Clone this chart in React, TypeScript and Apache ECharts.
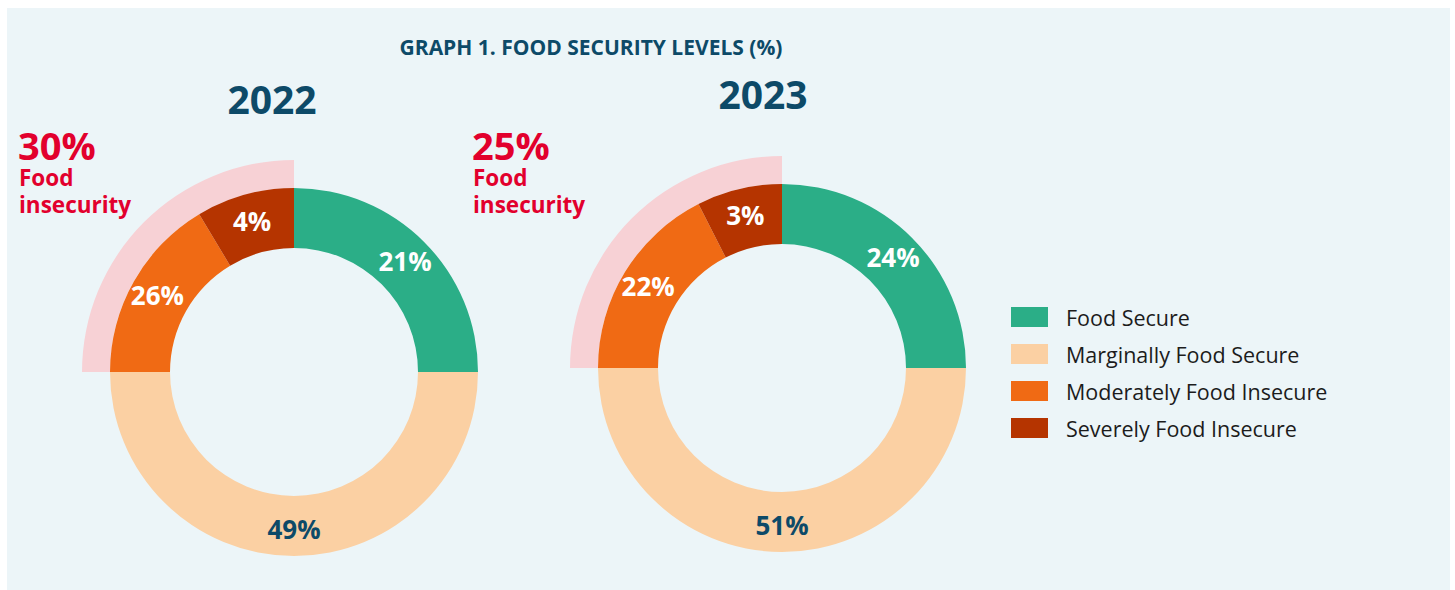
import React, { useEffect, useRef } from "react";
import * as echarts from "echarts";

const categories = ["Food Secure", "Marginally Food Secure", "Moderately Food Insecure", "Severely Food Insecure"];
const years = ["2022", "2023"];
const values2022 = [21, 49, 26, 4];
const values2023 = [24, 51, 22, 3];
// angular span (degrees) of each ring segment as drawn in the stylised source graphic
const arcSpan2022 = [90, 180, 59, 31];
const arcSpan2023 = [90, 180, 63, 27];
const insecurity = [30, 25];

const colors = ["#2BAE87", "#FBD0A3", "#F06A14", "#B53400"];
const labelColors = ["#FFFFFF", "#0D4A68", "#FFFFFF", "#FFFFFF"];
const NAVY = "#0D4A68";
const RED = "#E2002D";
const FONT = "'Open Sans', 'Noto Sans', sans-serif";

function donut(center: number[], values: number[], spans: number[]) {
  return {
    type: "pie",
    center,
    radius: [124, 184],
    startAngle: 90,
    clockwise: true,
    silent: true,
    avoidLabelOverlap: false,
    label: {
      show: true,
      position: "inside",
      fontFamily: FONT,
      fontSize: 26,
      fontWeight: "bold",
      formatter: (p: any) => p.data.pct + "%",
    },
    labelLine: { show: false },
    itemStyle: { borderWidth: 0 },
    data: categories.map((name, i) => ({
      name,
      value: spans[i],
      pct: values[i],
      itemStyle: { color: colors[i] },
      label: { color: labelColors[i] },
    })),
  };
}

function halo(center: number[], spans: number[]) {
  const insecureSpan = spans[2] + spans[3];
  return {
    type: "pie",
    center,
    radius: [184, 212],
    startAngle: 180,
    clockwise: true,
    silent: true,
    label: { show: false },
    labelLine: { show: false },
    data: [
      { name: "insecure-band", value: insecureSpan, itemStyle: { color: "#F7D1D5" } },
      { name: "rest", value: 360 - insecureSpan, itemStyle: { color: "rgba(0,0,0,0)" } },
    ],
  };
}

function redText(x: number, y: number, text: string, size: number) {
  return {
    type: "text", x, y,
    style: { text, fill: RED, font: `bold ${size}px ${FONT}`, textAlign: "left", textVerticalAlign: "middle" },
  };
}

export default function App() {
  const ref = useRef<HTMLDivElement>(null);
  useEffect(() => {
    if (!ref.current) return;
    const chart = echarts.init(ref.current, undefined, { renderer: "svg" });
    const c1 = [294, 372];
    const c2 = [782, 368];
    chart.setOption({
      animation: false,
      backgroundColor: "#FFFFFF",
      legend: {
        data: categories,
        orient: "vertical",
        left: 1006,
        top: 301,
        itemWidth: 37,
        itemHeight: 20,
        itemGap: 15,
        icon: "rect",
        selectedMode: false,
        textStyle: { fontFamily: FONT, fontSize: 21.5, color: "#1C1C1C", padding: [0, 0, 0, 13] },
      },
      graphic: [
        { type: "rect", z: -10, shape: { x: 7, y: 8, width: 1443, height: 582 }, style: { fill: "#ECF5F8" } },
        {
          type: "text", x: 591, y: 47,
          style: { text: "GRAPH 1. FOOD SECURITY LEVELS (%)", fill: NAVY, font: `bold 21px ${FONT}`, textAlign: "center", textVerticalAlign: "middle" },
        },
        {
          type: "text", x: 272, y: 98,
          style: { text: years[0], fill: NAVY, font: `bold 39px ${FONT}`, textAlign: "center", textVerticalAlign: "middle" },
        },
        {
          type: "text", x: 763, y: 93,
          style: { text: years[1], fill: NAVY, font: `bold 39px ${FONT}`, textAlign: "center", textVerticalAlign: "middle" },
        },
        redText(18, 145, insecurity[0] + "%", 38),
        redText(19, 177, "Food", 22.5),
        redText(19, 204, "insecurity", 22.5),
        redText(472, 145, insecurity[1] + "%", 38),
        redText(473, 177, "Food", 22.5),
        redText(473, 204, "insecurity", 22.5),
      ],
      series: [
        halo(c1, arcSpan2022),
        halo(c2, arcSpan2023),
        donut(c1, values2022, arcSpan2022),
        donut(c2, values2023, arcSpan2023),
      ],
    });
    return () => chart.dispose();
  }, []);
  return <div ref={ref} style={{ position: "absolute", left: 0, top: 0, width: 1455, height: 590 }} />;
}
